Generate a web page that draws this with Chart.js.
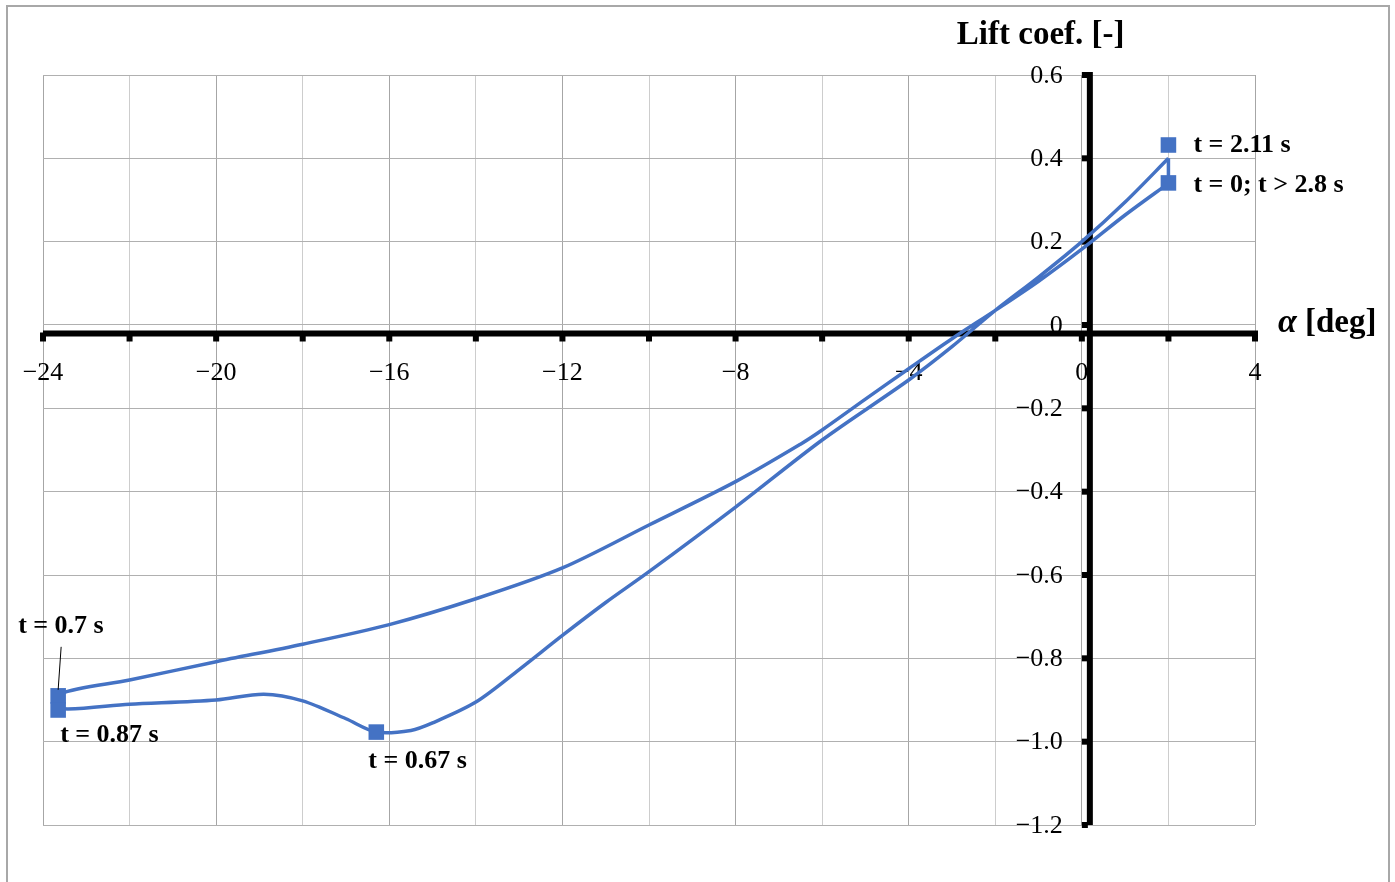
<!DOCTYPE html>
<html>
<head>
<meta charset="utf-8">
<script src="https://cdn.jsdelivr.net/npm/chart.js@4.4.0/dist/chart.umd.min.js"></script>
<style>
html, body { margin: 0; padding: 0; background: #fff; }
#wrap { position: relative; width: 1395px; height: 882px; overflow: hidden; }
#frame { position: absolute; left: 6px; top: 5px; width: 1384px; height: 920px; border: 2px solid #a8a8a8; box-sizing: border-box; }
#box { position: absolute; left: 0; top: 0; width: 1395px; height: 882px; }
</style>
</head>
<body>
<div id="wrap">
  <div id="frame"></div>
  <div id="box"><canvas id="liftChart"></canvas></div>
</div>
<script>
// hysteresis loop (alpha in deg, lift coefficient)
const alphaLoop = [2, 1, 0, -1, -2, -3, -4, -5, -6, -6.5, -8, -10, -12, -14, -16, -18, -20, -22, -23.6,
                   -23.65, -22, -20, -18.9, -18, -17, -16.3, -15.5, -15, -14, -13, -12, -11, -10, -8, -6, -4,
                   -3, -2, -1, 0, 1, 2, 2];
const liftLoop = [0.34, 0.264, 0.182, 0.105, 0.035, -0.033, -0.105, -0.178, -0.252, -0.286, -0.376, -0.48, -0.583,
                  -0.657, -0.719, -0.766, -0.808, -0.852, -0.885,
                  -0.92, -0.91, -0.90, -0.886, -0.902, -0.945, -0.977, -0.973, -0.955, -0.905, -0.827, -0.745,
                  -0.666, -0.592, -0.437, -0.276, -0.132, -0.052, 0.035, 0.115, 0.20, 0.295, 0.40, 0.34];

// marked instants
const markAlpha = [2, 2, -23.65, -23.65, -16.3];
const markLift = [0.432, 0.341, -0.89, -0.924, -0.977];
const markLabels = ['t = 2.11 s', 't = 0; t > 2.8 s', 't = 0.7 s', 't = 0.87 s', 't = 0.67 s'];

const xTitle = '[deg]';
const yTitle = 'Lift coef. [-]';

const blue = '#4472C4';
const serif = '"Liberation Serif", "Times New Roman", serif';

function fmtNum(v, dec) {
    if (Math.abs(v) < 1e-9) return '0';
    return v.toFixed(dec).replace('-', '\u2212');
}

// where each marker label sits, relative to its marker (px)
const labelOffsets = [[25, 0], [25, 2], [-40, -70], [2, 25], [-8, 29]];

const axisDecor = {
    id: 'axisDecor',
    beforeDatasetsDraw(chart) {
        const { ctx, chartArea, scales: { x, y } } = chart;
        const zx = x.getPixelForValue(0), zy = y.getPixelForValue(0);
        const ax = zx + 8, ay = zy + 8.5;
        ctx.save();
        ctx.fillStyle = '#000';
        // horizontal axis + ticks
        ctx.fillRect(chartArea.left, ay - 3, chartArea.right - chartArea.left + 3, 6);
        x.ticks.forEach(t => {
            const px = x.getPixelForValue(t.value);
            ctx.fillRect(px - 3, ay - 1, 6, 9);
        });
        // vertical axis + ticks
        ctx.fillRect(ax - 3, chartArea.top - 3, 6, chartArea.bottom - chartArea.top + 3);
        y.ticks.forEach(t => {
            const py = y.getPixelForValue(t.value);
            ctx.fillRect(ax - 8, py - 3, 6, 6);
        });

        // tick labels
        ctx.font = '26px ' + serif;
        ctx.textBaseline = 'middle';
        ctx.textAlign = 'center';
        x.ticks.forEach(t => {
            const v = Math.round(t.value);
            if (v % 4 !== 0) return;
            ctx.fillText(fmtNum(v, 0), x.getPixelForValue(v), ay + 40);
        });
        ctx.textAlign = 'right';
        y.ticks.forEach(t => {
            ctx.fillText(fmtNum(t.value, 1), zx - 19, y.getPixelForValue(t.value) + 1);
        });

        // axis titles
        ctx.textAlign = 'left';
        ctx.font = 'bold 33px ' + serif;
        ctx.fillText(yTitle, zx - 125, chartArea.top - 40);
        ctx.font = 'italic bold 34px ' + serif;
        ctx.fillText('\u03b1', chartArea.right + 23, zy - 2);
        ctx.font = 'bold 33px ' + serif;
        ctx.fillText(xTitle, chartArea.right + 50, zy - 2);
        ctx.restore();
    },
    afterDatasetsDraw(chart) {
        const { ctx } = chart;
        const pts = chart.getDatasetMeta(2).data;
        ctx.save();
        ctx.font = 'bold 26px ' + serif;
        ctx.fillStyle = '#000';
        ctx.textBaseline = 'middle';
        ctx.textAlign = 'left';
        pts.forEach((p, i) => {
            const [dx, dy] = labelOffsets[i];
            ctx.fillText(markLabels[i], p.x + dx, p.y + dy);
        });
        // leader line for t = 0.7 s
        const p = pts[2];
        ctx.strokeStyle = '#000';
        ctx.lineWidth = 1;
        ctx.beginPath();
        ctx.moveTo(p.x + 3, p.y - 49);
        ctx.lineTo(p.x, p.y - 6);
        ctx.stroke();
        ctx.restore();
    }
};

const loopPts = alphaLoop.map((a, i) => ({ x: a, y: liftLoop[i] }));
const n = loopPts.length;

const ctx = document.getElementById('liftChart').getContext('2d');
new Chart(ctx, {
    type: 'scatter',
    data: {
        datasets: [
            {
                // smooth part of the loop
                data: loopPts.slice(0, n - 1),
                showLine: true, borderColor: blue, borderWidth: 3.5, pointRadius: 0,
                tension: 0.3, fill: false, order: 3
            },
            {
                // closing drop at max alpha
                data: loopPts.slice(n - 2),
                showLine: true, borderColor: blue, borderWidth: 3.5, pointRadius: 0,
                tension: 0, fill: false, order: 2
            },
            {
                data: markAlpha.map((a, i) => ({ x: a, y: markLift[i] })),
                showLine: false, pointStyle: 'rect', pointRadius: 11,
                backgroundColor: blue, borderColor: blue, borderWidth: 0, order: 1
            }
        ]
    },
    options: {
        responsive: true, maintainAspectRatio: false, animation: false,
        layout: { padding: { left: 43, top: 75, right: 140, bottom: 57 } },
        plugins: { legend: { display: false }, tooltip: { enabled: false } },
        scales: {
            x: {
                type: 'linear', min: -24, max: 4,
                ticks: { stepSize: 2, display: false },
                grid: { drawTicks: false, lineWidth: 1, color: c => (Math.round(c.tick.value) % 4 === 0 ? '#a6a6a6' : '#cdcdcd') },
                border: { display: false }
            },
            y: {
                type: 'linear', min: -1.2, max: 0.6,
                ticks: { stepSize: 0.2, display: false },
                grid: { drawTicks: false, lineWidth: 1, color: '#b0b0b0' },
                border: { display: false }
            }
        }
    },
    plugins: [axisDecor]
});
</script>
</body>
</html>
